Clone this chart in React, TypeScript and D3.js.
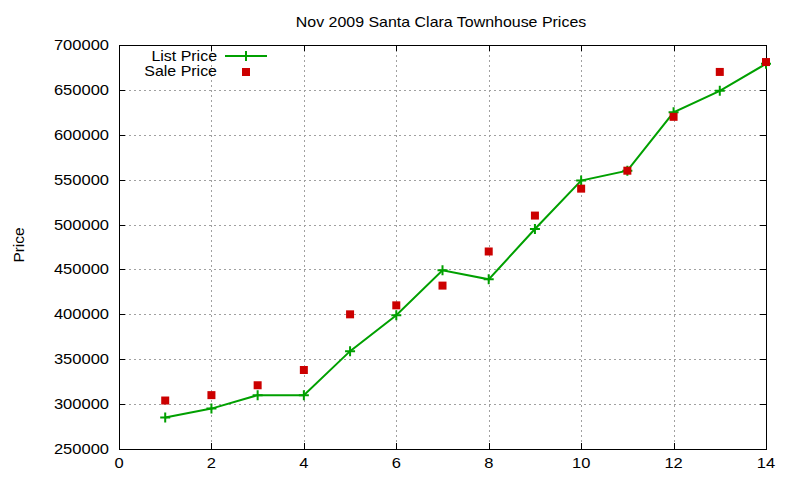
import React, { useEffect, useRef } from 'react';
import * as d3 from 'd3';

const listX = [1, 2, 3, 4, 5, 6, 7, 8, 9, 10, 11, 12, 13, 14];
const listPrice = [285000, 295000, 310000, 310000, 359000, 399000, 449000, 439000, 495000, 549000, 560000, 625000, 649000, 679000];
const saleX = [1, 2, 3, 4, 5, 6, 7, 8, 9, 10, 11, 12, 13, 14];
const salePrice = [304000, 310000, 321000, 338000, 400000, 410000, 432000, 470000, 510000, 540000, 560000, 620000, 670000, 681000];
const xTicks = [0, 2, 4, 6, 8, 10, 12, 14];
const yTicks = [250000, 300000, 350000, 400000, 450000, 500000, 550000, 600000, 650000, 700000];

const W = 800;
const H = 480;
const M = { left: 119, right: 34, top: 45, bottom: 31 };
const FONT = '"Liberation Sans", Arial, sans-serif';
const GREEN = '#00a000';
const RED = '#cc0000';

export default function App() {
  const ref = useRef<SVGSVGElement>(null);

  useEffect(() => {
    if (!ref.current) return;
    const svg = d3.select(ref.current);
    svg.selectAll('*').remove();

    const x = d3.scaleLinear().domain([0, 14]).range([M.left, W - M.right]);
    const y = d3.scaleLinear().domain([250000, 700000]).range([H - M.bottom, M.top]);
    const x0 = x.range()[0], x1 = x.range()[1];
    const y0 = y.range()[0], y1 = y.range()[1];

    // gnuplot's png fonts come out a bit wider than Liberation Sans
    const label = (g: any, tx: number, ty: number, s: string, anchor: string, stretch = 1.14, rot = 0) =>
      g.append('text')
        .attr('transform', `translate(${tx},${ty}) rotate(${rot}) scale(${stretch},1)`)
        .attr('text-anchor', anchor)
        .attr('font-family', FONT).attr('font-size', 14).attr('fill', '#000')
        .text(s);

    svg.append('rect').attr('width', W).attr('height', H).attr('fill', '#fff');

    // grid
    const grid = svg.append('g').attr('stroke', '#a0a0a0').attr('stroke-width', 1).attr('stroke-dasharray', '2,3');
    xTicks.slice(1, -1).forEach((t) => {
      grid.append('line').attr('x1', Math.round(x(t)) + 0.5).attr('x2', Math.round(x(t)) + 0.5).attr('y1', y1).attr('y2', y0);
    });
    yTicks.slice(1, -1).forEach((t) => {
      grid.append('line').attr('y1', Math.round(y(t)) + 0.5).attr('y2', Math.round(y(t)) + 0.5).attr('x1', x0).attr('x2', x1);
    });

    // ticks (mirrored)
    const tk = svg.append('g').attr('stroke', '#000').attr('stroke-width', 1);
    xTicks.forEach((t) => {
      const px = Math.round(x(t)) + 0.5;
      tk.append('line').attr('x1', px).attr('x2', px).attr('y1', y0).attr('y2', y0 - 6);
      tk.append('line').attr('x1', px).attr('x2', px).attr('y1', y1).attr('y2', y1 + 6);
    });
    yTicks.forEach((t) => {
      const py = Math.round(y(t)) + 0.5;
      tk.append('line').attr('x1', x0).attr('x2', x0 + 6).attr('y1', py).attr('y2', py);
      tk.append('line').attr('x1', x1).attr('x2', x1 - 6).attr('y1', py).attr('y2', py);
    });

    // frame
    svg.append('rect')
      .attr('x', x0 + 0.5).attr('y', y1 + 0.5)
      .attr('width', x1 - x0).attr('height', y0 - y1)
      .attr('fill', 'none').attr('stroke', '#000').attr('stroke-width', 1);

    // tick labels
    const lab = svg.append('g');
    xTicks.forEach((t) => label(lab, x(t), y0 + 19, String(t), 'middle', 1.18));
    yTicks.forEach((t) => label(lab, x0 - 10, y(t) + 5, String(t), 'end', 1.18));

    // title & axis label
    label(svg, 441, 27, 'Nov 2009 Santa Clara Townhouse Prices', 'middle');
    label(svg, 24, 245, 'Price', 'middle', 1.1, -90);

    // list price line
    const line = d3.line<number>().x((_, i) => x(listX[i])).y((d) => y(d));
    svg.append('path').datum(listPrice).attr('d', line).attr('fill', 'none')
      .attr('stroke', GREEN).attr('stroke-width', 2);

    const plus = (g: any, cx: number, cy: number) => {
      g.append('path').attr('d', `M${cx - 5},${cy}H${cx + 5}M${cx},${cy - 5}V${cy + 5}`)
        .attr('stroke', GREEN).attr('stroke-width', 2).attr('fill', 'none');
    };
    const pg = svg.append('g');
    listPrice.forEach((d, i) => plus(pg, x(listX[i]), y(d)));

    // sale price squares
    svg.append('g').selectAll('rect').data(salePrice).enter().append('rect')
      .attr('x', (_, i) => x(saleX[i]) - 4).attr('y', (d) => y(d) - 4)
      .attr('width', 8).attr('height', 8).attr('fill', RED);

    // legend
    const lg = svg.append('g');
    label(lg, 217, 61, 'List Price', 'end');
    lg.append('line').attr('x1', 225).attr('x2', 267).attr('y1', 56).attr('y2', 56).attr('stroke', GREEN).attr('stroke-width', 2);
    plus(lg, 246, 56);
    label(lg, 217, 76, 'Sale Price', 'end');
    lg.append('rect').attr('x', 242).attr('y', 68).attr('width', 8).attr('height', 8).attr('fill', RED);
  }, []);

  return (
    <svg ref={ref} width={W} height={H} style={{ position: 'absolute', left: 0, top: 0 }} />
  );
}
